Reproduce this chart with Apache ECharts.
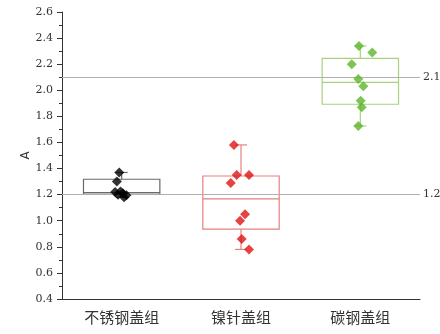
<!DOCTYPE html>
<html><head><meta charset="utf-8">
<script src="https://cdn.jsdelivr.net/npm/echarts@6/dist/echarts.min.js"></script>
<style>html,body{margin:0;padding:0;background:#fff}#c{width:440px;height:334px}</style>
</head><body><div id="c"></div>
<script>
const categories = ['不锈钢盖组', '镍针盖组', '碳钢盖组'];
const boxMin    = [1.18, 0.78, 1.726];
const boxQ1     = [1.203, 0.935, 1.893];
const boxMedian = [1.215, 1.167, 2.061];
const boxQ3     = [1.318, 1.343, 2.245];
const boxMax    = [1.37, 1.581, 2.34];
// [jitter offset from category centre, value]
const pointsSteel  = [[-0.02,1.37],[-0.04,1.30],[-0.055,1.22],[-0.01,1.225],[0.02,1.18],[-0.03,1.20],[0.01,1.21],[0.04,1.195]];
const pointsNickel = [[-0.059,1.58],[-0.036,1.35],[0.067,1.35],[-0.086,1.29],[0.034,1.05],[-0.008,1.0],[0.006,0.86],[0.067,0.78]];
const pointsCarbon = [[-0.011,2.34],[0.1,2.29],[-0.072,2.2],[-0.017,2.087],[0.025,2.03],[0.003,1.92],[0.012,1.87],[-0.017,1.726]];
const refLines = [2.1, 1.2];
const yTicks = { min: 0.4, max: 2.6, interval: 0.2 };

const boxColors = ['#6a6a6a', '#e58080', '#a9d27e'];
const pointColors = ['#000000', '#e01414', '#5db52a'];
const serif = 'DejaVu Serif';

const boxData = categories.map((c, i) => [i, boxMin[i], boxQ1[i], boxMedian[i], boxQ3[i], boxMax[i]]);
const groups = [pointsSteel, pointsNickel, pointsCarbon];

const chart = echarts.init(document.getElementById('c'));
const option = {
  animation: false,
  grid: { left: 62, right: 20, top: 12, bottom: 35 },
  xAxis: [{
    type: 'category', data: categories, boundaryGap: true,
    axisLine: { onZero: false, lineStyle: { color: '#333', width: 1 } },
    axisTick: { alignWithLabel: true, length: 4, lineStyle: { color: '#333' } },
    axisLabel: { color: '#333', fontSize: 15, margin: 11, fontFamily: 'Noto Sans CJK SC' },
    splitLine: { show: false }
  }, {
    type: 'value', min: -0.5, max: 2.5, show: false
  }],
  yAxis: {
    type: 'value', min: yTicks.min, max: yTicks.max, interval: yTicks.interval,
    name: 'A', nameLocation: 'middle', nameGap: 30, nameRotate: 90, nameMoveOverlap: false,
    nameTextStyle: { color: '#333', fontSize: 12, fontFamily: 'DejaVu Sans' },
    axisLine: { show: true, onZero: false, lineStyle: { color: '#333', width: 1 } },
    axisTick: { show: true, length: 5, lineStyle: { color: '#333' } },
    minorTick: { show: true, splitNumber: 2, length: 3, lineStyle: { color: '#333' } },
    axisLabel: { color: '#333', fontSize: 11, margin: 9, fontFamily: serif, formatter: v => v.toFixed(1) },
    splitLine: { show: false }
  },
  series: [
    {
      type: 'line', data: [], xAxisIndex: 0,
      markLine: {
        silent: true, symbol: 'none',
        lineStyle: { color: '#b0b0b0', width: 1, type: 'solid' },
        label: { position: 'end', formatter: p => p.value.toFixed(1), color: '#333', fontSize: 11, fontFamily: serif, distance: 3 },
        data: refLines.map(v => ({ yAxis: v }))
      }
    },
    {
      type: 'custom', xAxisIndex: 0, data: boxData, z: 3,
      renderItem: function (params, api) {
        const i = api.value(0);
        const w = api.size([1, 0])[0] * 0.32;
        const cap = 6;
        const pMin = api.coord([i, api.value(1)]);
        const pQ1 = api.coord([i, api.value(2)]);
        const pMed = api.coord([i, api.value(3)]);
        const pQ3 = api.coord([i, api.value(4)]);
        const pMax = api.coord([i, api.value(5)]);
        const x = pMed[0];
        const style = { stroke: boxColors[i], lineWidth: 1.2, fill: null };
        return {
          type: 'group',
          children: [
            { type: 'line', shape: { x1: x, y1: pQ3[1], x2: x, y2: pMax[1] }, style },
            { type: 'line', shape: { x1: x, y1: pQ1[1], x2: x, y2: pMin[1] }, style },
            { type: 'line', shape: { x1: x - cap, y1: pMax[1], x2: x + cap, y2: pMax[1] }, style },
            { type: 'line', shape: { x1: x - cap, y1: pMin[1], x2: x + cap, y2: pMin[1] }, style },
            { type: 'rect', shape: { x: x - w, y: pQ3[1], width: 2 * w, height: pQ1[1] - pQ3[1] }, style },
            { type: 'line', shape: { x1: x - w, y1: pMed[1], x2: x + w, y2: pMed[1] }, style }
          ]
        };
      }
    }
  ].concat(groups.map((g, i) => ({
    type: 'scatter', xAxisIndex: 1, z: 5,
    symbol: 'diamond', symbolSize: 10,
    itemStyle: { color: pointColors[i] },
    data: g.map(p => [i + p[0], p[1]])
  })))
};
chart.setOption(option);
</script></body></html>
